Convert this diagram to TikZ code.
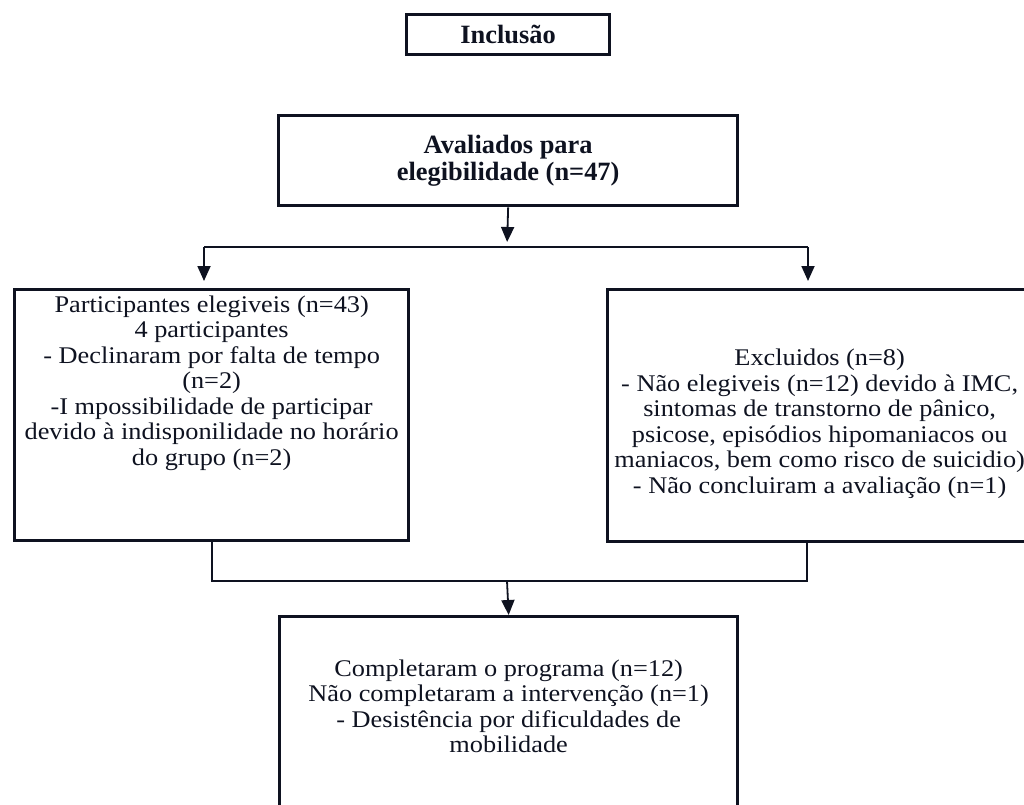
\documentclass[tikz,border=0pt]{standalone}
\usepackage{fontspec}
\setmainfont{Liberation Serif}[FakeStretch=1.1]
\newfontfamily\headfont{Liberation Serif}
\usetikzlibrary{arrows.meta,positioning,calc}
\definecolor{ink}{RGB}{14,18,32}

\begin{document}
\begin{tikzpicture}[x=1bp,y=-1bp,
    box/.style={draw=ink,line width=3.3bp,inner sep=0pt,anchor=north west},
    conn/.style={draw=ink,line width=1.8bp},
    arr/.style={conn,-{Triangle[width=13bp,length=15bp]}},
    body/.style={font=\fontsize{24}{25.6}\selectfont,text=ink},
    head/.style={font=\headfont\bfseries\fontsize{26.5}{27}\selectfont,text=ink,align=center}]
    \useasboundingbox (0,0) rectangle (1024,805);
    \clip (0,0) rectangle (1024,805);

    % Titel
    \node[box,head,minimum width=203bp,minimum height=40bp] (incl) at (405,13) {Inclusão};

    % Avaliados
    \node[box,head,minimum width=459bp,minimum height=90bp] (aval) at (277,114)
        {Avaliados para\\elegibilidade (n=47)};

    % linke Box: elegiveis
    \node[box,body] (eleg) at (13,288) {\parbox[c][251bp][t]{394bp}{\centering\vspace*{6bp}%
        Participantes elegiveis (n=43)\\
        4 participantes\\
        - Declinaram por falta de tempo\\
        (n=2)\\
        -I mpossibilidade de participar\\
        devido à indisponilidade no horário\\
        do grupo (n=2)}};

    % rechte Box: excluidos
    \node[box,body] (excl) at (606,288) {\parbox[c][252bp][c]{424bp}{\centering\vspace*{16bp}%
        Excluidos (n=8)\\
        - Não elegiveis (n=12) devido à  IMC,\\
        sintomas de transtorno de pânico,\\
        psicose, episódios hipomaniacos ou\\
        maniacos, bem como risco de suicidio)\\
        - Não concluiram a avaliação (n=1)}};

    % untere Box
    \node[box,body] (final) at (278,615) {\parbox[c][210bp][t]{458bp}{\centering\vspace*{43bp}%
        Completaram o programa (n=12)\\
        Não completaram a intervenção (n=1)\\
        - Desistência por dificuldades de\\
        mobilidade}};

    % Verzweigung oben
    \coordinate (split) at (507,247);
    \coordinate (splitL) at (204,247);
    \coordinate (splitR) at (808,247);

    \draw[arr,shorten >=5bp] (aval.south) -- (split);
    \draw[conn] (splitL) -- (splitR);
    \draw[arr,shorten >=7bp] (splitL) -- (splitL |- eleg.north);
    \draw[arr,shorten >=7bp] (splitR) -- (splitR |- excl.north);

    % Zusammenfuehrung unten
    \coordinate (join) at (507,581);
    \coordinate (joinL) at (212,581);
    \coordinate (joinR) at (807,581);

    \draw[conn] (joinL |- eleg.south) -- (joinL) -- (joinR) -- (joinR |- excl.south);
    \draw[arr] (join) -- (final.north);
\end{tikzpicture}
\end{document}
